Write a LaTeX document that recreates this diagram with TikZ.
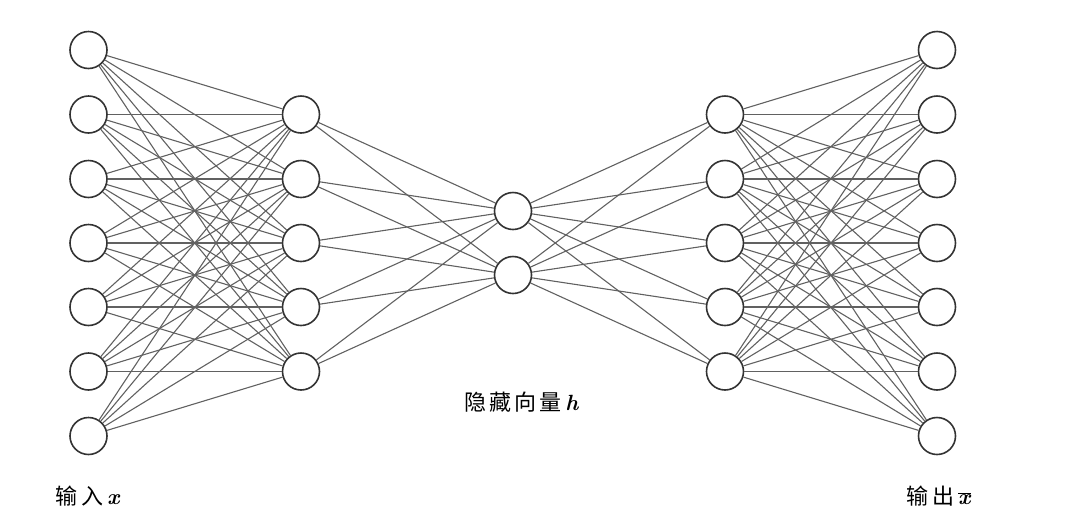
\documentclass[tikz,border=0pt]{standalone}
\usepackage{fontspec}
\newfontfamily\cjk{Noto Sans CJK SC}
\newcommand{\bvar}[1]{\textbf{\textit{#1}}}
\begin{document}
\begin{tikzpicture}[x=1pt,y=-1pt,
  neuron/.style={circle,draw=black!80,line width=1.6pt,minimum size=37pt,inner sep=0pt,fill=white},
  conn/.style={draw=black!62,line width=1.1pt},
  lbl/.style={font=\fontsize{22}{26}\selectfont}]
\useasboundingbox (0,0) rectangle (1065,523);
% layers
\foreach \i/\y in {1/50,2/114.5,3/179,4/243,5/307,6/371.5,7/436}{
  \node[neuron] (a\i) at (88.5,\y) {};
  \node[neuron] (e\i) at (937,\y) {};
}
\foreach \i/\y in {1/114.5,2/179,3/243,4/307,5/371.5}{
  \node[neuron] (b\i) at (301,\y) {};
  \node[neuron] (d\i) at (725,\y) {};
}
\node[neuron] (c1) at (513,211) {};
\node[neuron] (c2) at (513,275) {};
% connectors
\foreach \i in {1,...,7}{\foreach \j in {1,...,5}{
  \draw[conn] (a\i) -- (b\j);
  \draw[conn] (d\j) -- (e\i);
}}
\foreach \j in {1,...,5}{\foreach \k in {1,2}{
  \draw[conn] (b\j) -- (c\k);
  \draw[conn] (c\k) -- (d\j);
}}
% labels
\node[lbl] (lin) at (88,496) {{\cjk 输\hspace{4pt}入}\,\bvar{x}};
\node[lbl] (lh) at (522,402) {{\cjk 隐\hspace{3pt}藏\hspace{3pt}向\hspace{3pt}量}\,\bvar{h}};
\node[lbl] (lout) at (939,496) {{\cjk 输\hspace{4pt}出}\,$\overline{\hbox{\bvar{x}}}$};
\end{tikzpicture}
\end{document}
